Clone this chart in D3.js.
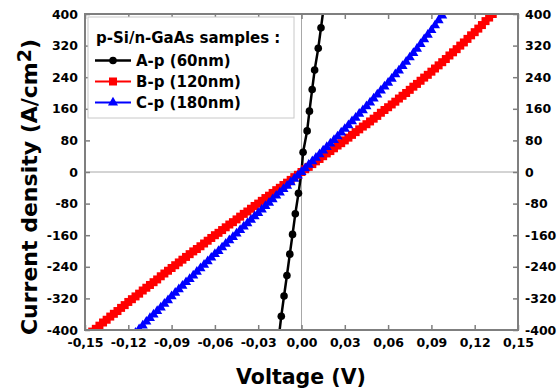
<!DOCTYPE html>
<html>
<head>
<meta charset="utf-8">
<script src="https://cdn.jsdelivr.net/npm/d3@7"></script>
<style>
  html, body { margin: 0; padding: 0; background: #fff; }
  svg { display: block; }
  text { font-family: "DejaVu Sans", Verdana, sans-serif; font-weight: bold; fill: #000; }
</style>
</head>
<body>
<svg id="chart" width="558" height="390"></svg>
<script>
// ---------- data ----------
const seriesNames = ["A-p (60nm)", "B-p (120nm)", "C-p (180nm)"];
const legendTitle = "p-Si/n-GaAs samples :";

const voltageA = [-0.0157, -0.0140, -0.0121, -0.0101, -0.0081, -0.0062, -0.0043, -0.0021, 0.0000,
                  0.0011, 0.0039, 0.0055, 0.0074, 0.0091, 0.0116, 0.0135, 0.0154];
const currentA = [-417, -365, -314, -262, -208, -158, -106, -54, 0,
                  50, 104, 154, 209, 258, 313, 365, 417];

const voltageB = [
  -0.1450,-0.1425,-0.1400,-0.1375,-0.1350,-0.1325,-0.1300,-0.1275,-0.1250,-0.1225,
  -0.1200,-0.1175,-0.1150,-0.1125,-0.1100,-0.1075,-0.1050,-0.1025,-0.1000,-0.0975,
  -0.0950,-0.0925,-0.0900,-0.0875,-0.0850,-0.0825,-0.0800,-0.0775,-0.0750,-0.0725,
  -0.0700,-0.0675,-0.0650,-0.0625,-0.0600,-0.0575,-0.0550,-0.0525,-0.0500,-0.0475,
  -0.0450,-0.0425,-0.0400,-0.0375,-0.0350,-0.0325,-0.0300,-0.0275,-0.0250,-0.0225,
  -0.0200,-0.0175,-0.0150,-0.0125,-0.0100,-0.0075,-0.0050,-0.0025,0.0000,
  0.0025,0.0050,0.0075,0.0100,0.0125,0.0150,0.0175,0.0200,0.0225,0.0250,
  0.0275,0.0300,0.0325,0.0350,0.0375,0.0400,0.0425,0.0450,0.0475,0.0500,
  0.0525,0.0550,0.0575,0.0600,0.0625,0.0650,0.0675,0.0700,0.0725,0.0750,
  0.0775,0.0800,0.0825,0.0850,0.0875,0.0900,0.0925,0.0950,0.0975,0.1000,
  0.1025,0.1050,0.1075,0.1100,0.1125,0.1150,0.1175,0.1200,0.1225,0.1250,
  0.1275,0.1300,0.1325,0.1350];
const currentB = [
  -404,-397,-389,-381,-374,-366,-359,-352,-344,-337,
  -329,-322,-315,-308,-300,-293,-286,-279,-272,-264,
  -257,-250,-243,-236,-229,-222,-215,-208,-201,-195,
  -188,-181,-174,-167,-160,-154,-147,-140,-133,-127,
  -120,-113,-106,-100,-93,-86,-80,-73,-66,-60,
  -53,-46,-40,-33,-27,-20,-13,-7,0,
  7,13,20,27,33,40,47,53,60,67,
  73,80,87,94,101,108,115,121,128,135,
  142,150,157,164,171,178,186,193,200,208,
  216,223,231,239,246,254,262,270,278,286,
  295,303,311,320,328,337,346,354,363,372,
  382,391,400,409];

const voltageC = [
  -0.1150,-0.1125,-0.1100,-0.1075,-0.1050,-0.1025,-0.1000,-0.0975,-0.0950,-0.0925,
  -0.0900,-0.0875,-0.0850,-0.0825,-0.0800,-0.0775,-0.0750,-0.0725,-0.0700,-0.0675,
  -0.0650,-0.0625,-0.0600,-0.0575,-0.0550,-0.0525,-0.0500,-0.0475,-0.0450,-0.0425,
  -0.0400,-0.0375,-0.0350,-0.0325,-0.0300,-0.0275,-0.0250,-0.0225,-0.0200,-0.0175,
  -0.0150,-0.0125,-0.0100,-0.0075,-0.0050,-0.0025,0.0000,
  0.0025,0.0050,0.0075,0.0100,0.0125,0.0150,0.0175,0.0200,0.0225,0.0250,
  0.0275,0.0300,0.0325,0.0350,0.0375,0.0400,0.0425,0.0450,0.0475,0.0500,
  0.0525,0.0550,0.0575,0.0600,0.0625,0.0650,0.0675,0.0700,0.0725,0.0750,
  0.0775,0.0800,0.0825,0.0850,0.0875,0.0900,0.0925,0.0950,0.0975,0.1000];
const currentC = [
  -407,-398,-389,-379,-370,-361,-352,-343,-334,-325,
  -315,-306,-297,-288,-279,-271,-262,-253,-244,-235,
  -226,-217,-208,-200,-191,-182,-173,-165,-156,-147,
  -138,-130,-121,-112,-104,-95,-86,-78,-69,-60,
  -52,-43,-35,-26,-17,-9,0,
  9,18,27,36,45,54,63,72,81,90,
  100,109,118,128,137,147,156,166,176,186,
  196,206,216,226,236,247,257,268,279,290,
  301,312,324,336,347,359,371,384,396,409];

const xTicks = [-0.15, -0.12, -0.09, -0.06, -0.03, 0, 0.03, 0.06, 0.09, 0.12, 0.15];
const xTickLabels = ["-0,15", "-0,12", "-0,09", "-0,06", "-0,03", "0,00", "0,03", "0,06", "0,09", "0,12", "0,15"];
const yTicks = [-400, -320, -240, -160, -80, 0, 80, 160, 240, 320, 400];
const yTickLabels = ["-400", "-320", "-240", "-160", "-80", "0", "80", "160", "240", "320", "400"];

const xTitle = "Voltage (V)";

// ---------- layout ----------
const svg = d3.select("#chart");
const L = 85, R = 518, T = 14, B = 330;
const x = d3.scaleLinear().domain([-0.15, 0.15]).range([L, R]);
const y = d3.scaleLinear().domain([-400, 400]).range([B, T]);
const axisColor = "#7f7f7f";

svg.append("defs").append("clipPath").attr("id", "plotClip")
  .append("rect").attr("x", L).attr("y", T).attr("width", R - L).attr("height", B - T);

// zero lines
svg.append("line").attr("x1", L).attr("x2", R).attr("y1", y(0)).attr("y2", y(0))
  .attr("stroke", "#a8a8a8").attr("stroke-width", 1);
svg.append("line").attr("x1", x(0)).attr("x2", x(0)).attr("y1", T).attr("y2", B)
  .attr("stroke", "#a8a8a8").attr("stroke-width", 1);

// series
const plot = svg.append("g").attr("clip-path", "url(#plotClip)");
const line = d3.line().x(d => x(d[0])).y(d => y(d[1]));

const dataA = voltageA.map((v, i) => [v, currentA[i]]);
const dataB = voltageB.map((v, i) => [v, currentB[i]]);
const dataC = voltageC.map((v, i) => [v, currentC[i]]);

const colA = "#000000", colB = "#ff0000", colC = "#0000ff";

// A
plot.append("path").datum(dataA).attr("d", line).attr("fill", "none")
  .attr("stroke", colA).attr("stroke-width", 2.5);
plot.append("g").selectAll("circle").data(dataA).join("circle")
  .attr("cx", d => x(d[0])).attr("cy", d => y(d[1])).attr("r", 3.8).attr("fill", colA);

// B
plot.append("path").datum(dataB).attr("d", line).attr("fill", "none")
  .attr("stroke", colB).attr("stroke-width", 2);
const sq = 8;
plot.append("g").selectAll("rect").data(dataB).join("rect")
  .attr("x", d => x(d[0]) - sq / 2).attr("y", d => y(d[1]) - sq / 2)
  .attr("width", sq).attr("height", sq).attr("fill", colB);

// C
plot.append("path").datum(dataC).attr("d", line).attr("fill", "none")
  .attr("stroke", colC).attr("stroke-width", 2);
const tri = d3.symbol().type(d3.symbolTriangle).size(44);
plot.append("g").selectAll("path").data(dataC).join("path")
  .attr("d", tri).attr("transform", d => `translate(${x(d[0])},${y(d[1])})`).attr("fill", colC);

// axes
function styleAxis(g) {
  g.select(".domain").remove();
  g.selectAll(".tick line").attr("stroke", axisColor).attr("stroke-width", 1.5);
  g.selectAll(".tick text").style("font-size", "12.5px").style("font-weight", "bold")
    .style("font-family", "'DejaVu Sans', sans-serif").attr("fill", "#000");
}
svg.append("g").attr("transform", `translate(0,${B})`)
  .call(d3.axisBottom(x).tickValues(xTicks).tickSize(-5).tickPadding(8)
    .tickFormat((d, i) => xTickLabels[i]))
  .call(styleAxis);
svg.append("g").attr("transform", `translate(0,${T})`)
  .call(d3.axisTop(x).tickValues(xTicks).tickSize(-5).tickFormat(""))
  .call(styleAxis);
svg.append("g").attr("transform", `translate(${L},0)`)
  .call(d3.axisLeft(y).tickValues(yTicks).tickSize(-5).tickPadding(7)
    .tickFormat((d, i) => yTickLabels[i]))
  .call(styleAxis);
svg.append("g").attr("transform", `translate(${R},0)`)
  .call(d3.axisRight(y).tickValues(yTicks).tickSize(-5).tickPadding(7)
    .tickFormat((d, i) => yTickLabels[i]))
  .call(styleAxis);

// frame
svg.append("rect").attr("x", L).attr("y", T).attr("width", R - L).attr("height", B - T)
  .attr("fill", "none").attr("stroke", axisColor).attr("stroke-width", 2);

// legend
const lg = svg.append("g");
lg.append("rect").attr("x", 88).attr("y", 17).attr("width", 206).attr("height", 101)
  .attr("fill", "#fff").attr("stroke", "#c8c8c8").attr("stroke-width", 1);
lg.append("text").attr("x", 96).attr("y", 43).style("font-size", "15px").text(legendTitle);
const legendRows = [
  { name: seriesNames[0], color: colA, y: 60.5, mark: "circle" },
  { name: seriesNames[1], color: colB, y: 81.5, mark: "square" },
  { name: seriesNames[2], color: colC, y: 102.5, mark: "triangle" }
];
legendRows.forEach(r => {
  lg.append("line").attr("x1", 95).attr("x2", 131).attr("y1", r.y).attr("y2", r.y)
    .attr("stroke", r.color).attr("stroke-width", r.mark === "circle" ? 2.5 : 2);
  if (r.mark === "circle") {
    lg.append("circle").attr("cx", 113).attr("cy", r.y).attr("r", 3.8).attr("fill", r.color);
  } else if (r.mark === "square") {
    lg.append("rect").attr("x", 113 - sq / 2).attr("y", r.y - sq / 2).attr("width", sq).attr("height", sq).attr("fill", r.color);
  } else {
    lg.append("path").attr("d", tri).attr("transform", `translate(113,${r.y})`).attr("fill", r.color);
  }
  lg.append("text").attr("x", 136).attr("y", r.y + 5.5).style("font-size", "15px").text(r.name);
});

// axis titles
svg.append("text").attr("x", 301).attr("y", 384).attr("text-anchor", "middle")
  .style("font-size", "20.5px").text(xTitle);

const yt = svg.append("text").attr("transform", "translate(36.5,187) rotate(-90)")
  .attr("text-anchor", "middle").style("font-size", "22px");
yt.append("tspan").text("Current density (A/cm");
yt.append("tspan").attr("dy", -6).style("font-size", "19px").text("2");
yt.append("tspan").attr("dy", 6).text(")");
</script>
</body>
</html>
